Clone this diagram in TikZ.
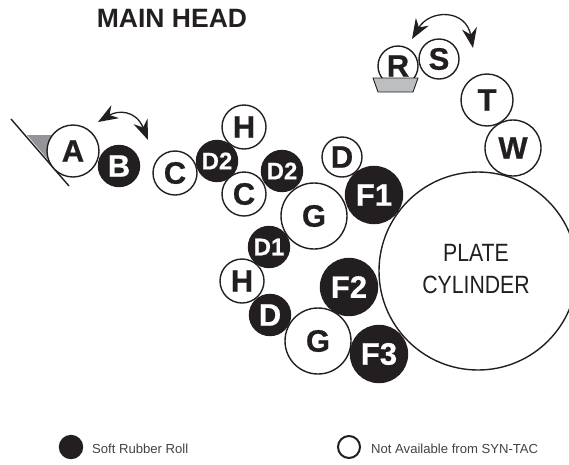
\documentclass[tikz,border=0pt]{standalone}
\usepackage{fontspec}
\setmainfont{Liberation Sans}
\newfontfamily\platefont[FakeStretch=0.85]{Liberation Sans}
\newfontfamily\rollfont[FakeBold=0.7]{Liberation Sans Bold}
\usepackage{tikz}
\usetikzlibrary{arrows.meta}
\definecolor{rolldark}{HTML}{231F20}
\definecolor{traygray}{HTML}{BCBEC0}
\definecolor{wedgegray}{HTML}{939598}
\tikzstyle{openroll} = [circle, inner sep=0pt, draw=rolldark, line width=1.4pt, fill=white, text=rolldark, font=\rollfont\fontsize{31}{31}\selectfont]
\tikzstyle{softroll} = [circle, inner sep=0pt, draw=rolldark, line width=1.4pt, fill=rolldark, text=white, font=\rollfont\fontsize{31}{31}\selectfont]
\tikzstyle{smalllabel} = [font=\rollfont\fontsize{24}{24}\selectfont]
\tikzstyle{swing} = [{Stealth[length=20pt,width=15pt]}-{Stealth[length=20pt,width=15pt]}, draw=rolldark, line width=1.3pt]
\tikzstyle{legendtext} = [anchor=west, inner sep=0pt, text=rolldark!85, font=\fontsize{13.1}{15}\selectfont]
\begin{document}
\begin{tikzpicture}[x=1pt, y=-1pt]
\useasboundingbox (0,0) rectangle (569,464);
\node (title) [text=rolldark, font=\bfseries\fontsize{26.5}{28}\selectfont] at (172,18) {MAIN HEAD};
% doctor blade
\fill [wedgegray] (27,135) -- (52,135) -- (50,162) -- cycle;
\coordinate (bladetop) at (11,119);
\coordinate (bladeend) at (69,186);
\draw [rolldark, line width=1.4pt] (bladetop) -- (bladeend);
% plate cylinder
\node (plate) [openroll, minimum size=198pt] at (478,271) {};
\node (platetext) [text=rolldark, font=\platefont\fontsize{25}{32}\selectfont, align=center] at (476,269) {PLATE\\CYLINDER};
% left train
\node (a) [openroll, minimum size=52pt] at (73,151) {A};
\node (b) [softroll, minimum size=41pt] at (119,166) {B};
\node (c) [openroll, minimum size=44pt] at (175,173) {C};
\node (d2a) [softroll, smalllabel, minimum size=41pt] at (217,161) {D2};
\node (h) [openroll, minimum size=44pt] at (244,127) {H};
\node (cb) [openroll, minimum size=44pt] at (244,194) {C};
\node (d2b) [softroll, smalllabel, minimum size=41pt] at (282,171) {D2};
\node (da) [openroll, minimum size=40pt] at (342,157) {D};
\node (g) [openroll, minimum size=66pt] at (314,216) {G};
\node (f1) [softroll, minimum size=57pt] at (374,195) {F1};
\node (d1) [softroll, smalllabel, minimum size=41pt] at (269,247) {D1};
\node (hb) [openroll, minimum size=44pt] at (242,281) {H};
\node (db) [softroll, minimum size=41pt] at (270,315) {D};
\node (f2) [softroll, minimum size=57pt] at (349,287) {F2};
\node (gb) [openroll, minimum size=66pt] at (318,341) {G};
\node (f3) [softroll, minimum size=57pt] at (379,354) {F3};
% right train
\node (r) [openroll, minimum size=40pt, text depth=0pt] at (398,66) {R};
\fill [traygray, draw=rolldark, line width=0.9pt] (373,78) -- (418,78) -- (413,92) -- (378,92) -- cycle;
\node (s) [openroll, minimum size=40pt] at (439,59) {S};
\node (t) [openroll, minimum size=52pt] at (487,100) {T};
\node (w) [openroll, minimum size=56pt] at (513,148) {W};
% swing arrows
\coordinate (swingaa) at (98,122);
\coordinate (swingab) at (148,140);
\coordinate (swingba) at (412,39);
\coordinate (swingbb) at (473,48);
\draw [swing] (swingaa) .. controls (118,110) and (136,110) .. (swingab);
\draw [swing] (swingba) .. controls (430,9) and (466,9) .. (swingbb);
% legend
\node (softkey) [softroll, minimum size=23pt] at (71,447) {};
\node (softtext) [legendtext] at (92,449) {Soft Rubber Roll};
\node (openkey) [openroll, minimum size=22pt, line width=2pt] at (349,447) {};
\node (opentext) [legendtext] at (371,449) {Not Available from SYN-TAC};
\end{tikzpicture}
\end{document}
